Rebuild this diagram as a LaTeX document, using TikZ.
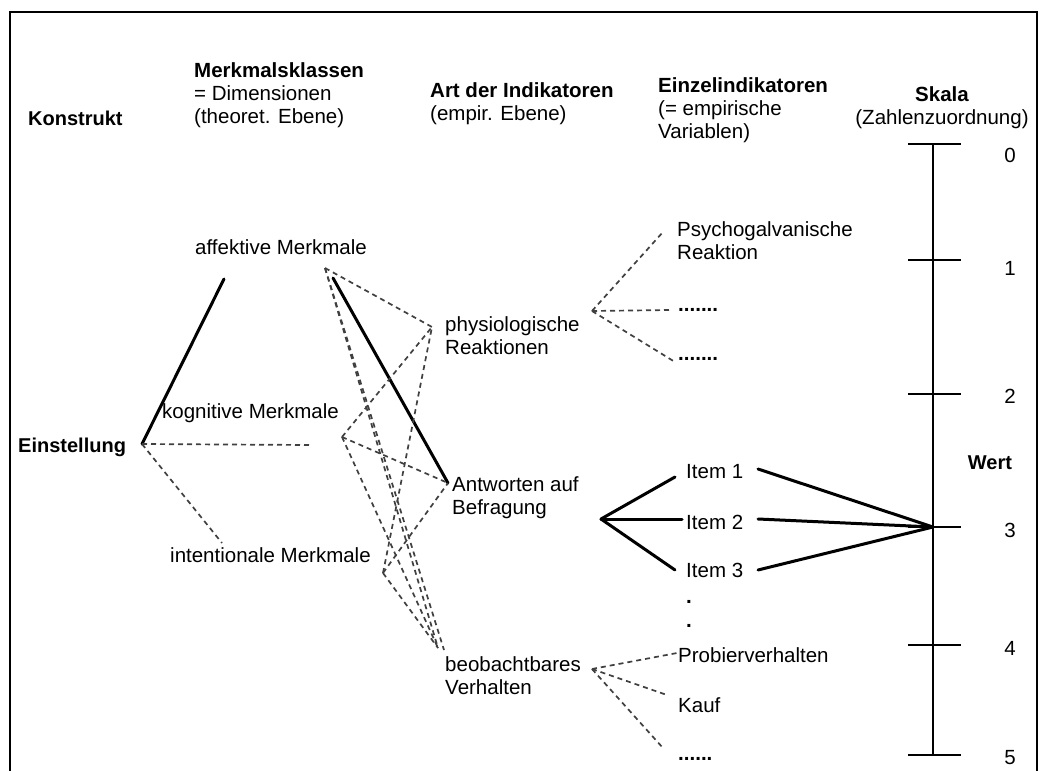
\documentclass[tikz,border=0pt]{standalone}
\usepackage{fontspec}
\setmainfont{Liberation Sans}
\begin{document}
\begin{tikzpicture}[x=1pt,y=-1pt,
  every node/.style={inner sep=0pt, font=\fontsize{20.5}{23}\selectfont},
  lbl/.style={anchor=west, align=left},
  head/.style={anchor=west, align=left, font=\fontsize{20}{23}\selectfont\bfseries},
  dots/.style={anchor=base west, font=\fontsize{20.5}{23}\selectfont\bfseries},
  strong/.style={line width=3pt, line cap=round},
  weak/.style={line width=1.7pt, dash pattern=on 5pt off 4pt, draw=black!75},
  scaleln/.style={line width=1.5pt},
  frame/.style={line width=2pt}]
\useasboundingbox (0,0) rectangle (1039,771);
\fill[white] (0,0) rectangle (1039,771);
\draw[frame] (10,771) -- (10,12) -- (1037,12) -- (1037,771);

% column headings
\node[head] (konstrukt) at (28,118) {Konstrukt};
\node[lbl] (mk) at (194,95) {{\bfseries Merkmalsklassen}\\= Dimensionen\\(theoret. Ebene)};
\node[lbl] (art) at (430,104) {{\bfseries Art der Indikatoren}\\(empir. Ebene)};
\node[lbl] (einzel) at (658,110) {{\bfseries Einzelindikatoren}\\(= empirische\\Variablen)};
\node[align=center] (skala) at (942,108) {{\bfseries Skala}\\(Zahlenzuordnung)};

% construct and dimensions
\node[head] (einst) at (18,447) {Einstellung};
\node[lbl] (aff) at (195,247) {affektive Merkmale};
\node[lbl] (kog) at (162,413) {kognitive Merkmale};
\node[lbl] (int) at (170,555) {intentionale Merkmale};

% indicator types
\node[lbl] (phys) at (445,336) {physiologische\\Reaktionen};
\node[lbl] (antw) at (452,498) {Antworten auf\\Befragung};
\node[lbl] (beob) at (445,676) {beobachtbares\\Verhalten};

% single indicators
\node[lbl] (psy) at (677,241) {Psychogalvanische\\Reaktion};
\node[dots] (d1) at (678,311) {.......};
\node[dots] (d2) at (678,360) {.......};
\node[lbl] (it1) at (686,472) {Item 1};
\node[lbl] (it2) at (686,522) {Item 2};
\node[lbl] (it3) at (686,570) {Item 3};
\node[dots] (p1) at (686,603) {.};
\node[dots] (p2) at (686,627) {.};
\node[lbl] (prob) at (678,655) {Probierverhalten};
\node[lbl] (kauf) at (678,705) {Kauf};
\node[dots] (d3) at (678,760) {......};

% connection points
\coordinate (ein) at (142,444);
\coordinate (affT) at (224,279);
\coordinate (kogD) at (310,445);
\coordinate (intD) at (222,543);
\coordinate (A) at (325,268);
\coordinate (A2) at (333,278);
\coordinate (K) at (342,437);
\coordinate (I) at (383,573);
\coordinate (P) at (432,327);
\coordinate (Aw) at (448,483);
\coordinate (B) at (438,648);
\coordinate (B2) at (444,650);
\coordinate (Pr) at (592,311);
\coordinate (psyE) at (663,232);
\coordinate (d1E) at (670,310);
\coordinate (d2E) at (675,362);
\coordinate (Awr) at (601,519);
\coordinate (it1E) at (675,477);
\coordinate (it2E) at (682,519);
\coordinate (it3E) at (675,570);
\coordinate (it1S) at (758,469);
\coordinate (it2S) at (758,519);
\coordinate (it3S) at (758,570);
\coordinate (Br) at (592,669);
\coordinate (probE) at (677,653);
\coordinate (kaufE) at (667,695);
\coordinate (d3E) at (663,748);

% scale
\coordinate (s0) at (933,144);
\coordinate (s1) at (933,260);
\coordinate (s2) at (933,394);
\coordinate (s3) at (933,527);
\coordinate (s4) at (933,645);
\coordinate (s5) at (933,755);
\draw[scaleln] (s0) -- (s5);
\foreach \s in {s0,s1,s2,s3,s4,s5}
  \draw[scaleln] ([xshift=-25pt]\s) -- ([xshift=28pt]\s);
\node (n0) at (1010,155) {0};
\node (n1) at (1010,268) {1};
\node (n2) at (1010,396) {2};
\node (n3) at (1010,530) {3};
\node (n4) at (1010,648) {4};
\node (n5) at (1010,758) {5};
\node[font=\fontsize{20}{23}\selectfont\bfseries] (wert) at (990,463) {Wert};

% construct to dimensions
\draw[strong] (ein) -- (affT);
\draw[weak] (ein) -- (kogD);
\draw[weak] (ein) -- (intD);

% dimensions to indicator types
\draw[weak] (A) -- (P);
\draw[strong] (A2) -- (Aw);
\draw[weak] (A) -- (B);
\draw[weak] (A) -- (B2);
\draw[weak] (K) -- (P);
\draw[weak] (K) -- (Aw);
\draw[weak] (K) -- (B);
\draw[weak] (I) -- (P);
\draw[weak] (I) -- (Aw);
\draw[weak] (I) -- (B);

% indicator types to single indicators
\draw[weak] (Pr) -- (psyE);
\draw[weak] (Pr) -- (d1E);
\draw[weak] (Pr) -- (d2E);
\draw[strong] (Awr) -- (it1E);
\draw[strong] (Awr) -- (it2E);
\draw[strong] (Awr) -- (it3E);
\draw[weak] (Br) -- (probE);
\draw[weak] (Br) -- (kaufE);
\draw[weak] (Br) -- (d3E);

% items to scale value
\draw[strong] (it1S) -- (s3);
\draw[strong] (it2S) -- (s3);
\draw[strong] (it3S) -- (s3);
\end{tikzpicture}
\end{document}
